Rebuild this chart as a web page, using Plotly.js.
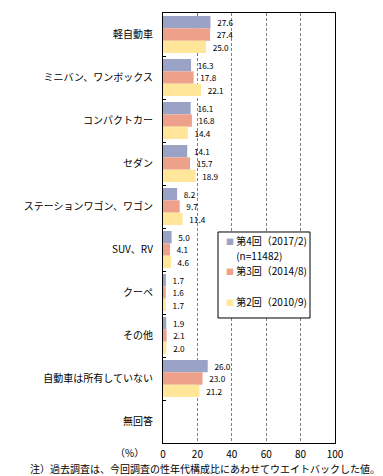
<!DOCTYPE html>
<html><head><meta charset="utf-8">
<script src="https://cdn.plot.ly/plotly-3.0.1.min.js"></script>
<style>html,body{margin:0;padding:0;background:#fff}#chart{width:383px;height:476px}</style>
</head><body><div id="chart"></div>
<script>
const categories = ["軽自動車","ミニバン、ワンボックス","コンパクトカー","セダン","ステーションワゴン、ワゴン","SUV、RV","クーペ","その他","自動車は所有していない","無回答"];
const series4 = [27.6,16.3,16.1,14.1,8.2,5.0,1.7,1.9,26.0,null];
const series3 = [27.4,17.8,16.8,15.7,9.7,4.1,1.6,2.1,23.0,null];
const series2 = [25.0,22.1,14.4,18.9,11.4,4.6,1.7,2.0,21.2,null];
const names = ["第4回（2017/2)","第3回（2014/8)","第2回（2010/9)"];
const nNote = "(n=11482)";
const colors = ["#9AA2C6","#EDA08A","#FFE699"];
const xTicks = [0,20,40,60,80,100];
const F = '"Noto Sans CJK JP", "Noto Sans", sans-serif';

const data = [series4, series3, series2].map((vals, i) => ({
  type: 'bar', orientation: 'h', y: categories, x: vals, name: names[i],
  marker: {color: colors[i]}, showlegend: false,
  text: vals.map(v => v == null ? '' : '\u00a0\u00a0' + v.toFixed(1)),
  textposition: 'outside', textfont: {family: F, size: 10, color: '#000'},
  cliponaxis: false, hoverinfo: 'none'
}));

// legend box (drawn as a frame + text lines)
const sw = c => '<span style="color:' + c + ';font-size:8px">■</span>\u00a0';
const legendLines = [
  {t: sw(colors[0]) + names[0], y: 0.4698},
  {t: sw('#ffffff') + nNote, y: 0.4349},
  {t: sw(colors[1]) + names[1], y: 0.4023},
  {t: sw(colors[2]) + names[2], y: 0.3302}
];
const legendAnn = legendLines.map(l => ({
  text: l.t, xref: 'paper', yref: 'paper', x: 0.355, y: l.y, xanchor: 'left', yanchor: 'middle',
  align: 'left', showarrow: false, font: {family: F, size: 10, color: '#000'}
}));

const layout = {
  width: 383, height: 476,
  margin: {l: 163, r: 48, t: 13, b: 33},
  paper_bgcolor: '#fff', plot_bgcolor: '#fff',
  barmode: 'group', bargap: 0.14, bargroupgap: 0,
  font: {family: F, size: 10, color: '#000'},
  showlegend: false,
  xaxis: {range: [0, 100], tickvals: xTicks, ticktext: xTicks.map(String),
    showgrid: true, gridcolor: '#808080', griddash: '3px,2px', gridwidth: 1,
    showline: true, linecolor: '#000', linewidth: 1, mirror: true,
    zeroline: false, ticks: '', fixedrange: true, ticklabelstandoff: 2,
    tickfont: {family: F, size: 10, color: '#000'}},
  yaxis: {type: 'category', autorange: 'reversed', showline: true, linecolor: '#000',
    linewidth: 1, mirror: true, ticks: 'inside', tickson: 'boundaries', ticklen: 3,
    tickcolor: '#000', showgrid: false, zeroline: false, ticklabelstandoff: 7,
    tickfont: {family: F, size: 10, color: '#000'}},
  shapes: [
    {type: 'rect', xref: 'paper', yref: 'paper', x0: 0.3198, x1: 0.8547, y0: 0.2907, y1: 0.4907,
     line: {color: '#000', width: 1}, fillcolor: '#fff', layer: 'above'}
  ],
  annotations: legendAnn.concat([
    {text: '（%）', xref: 'paper', yref: 'paper', x: -0.1, y: -0.021, xanchor: 'right', yanchor: 'middle', showarrow: false, font: {family: F, size: 10}},
    {text: '注）過去調査は、今回調査の性年代構成比にあわせてウエイトバックした値。', xref: 'paper', yref: 'paper', x: -0.785, y: -0.06, xanchor: 'left', yanchor: 'middle', showarrow: false, font: {family: F, size: 10}}
  ])
};
Plotly.newPlot('chart', data, layout, {displayModeBar: false, staticPlot: true});
</script></body></html>
